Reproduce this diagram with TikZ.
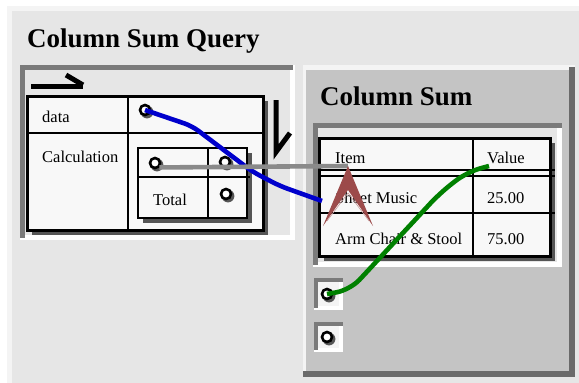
\documentclass[tikz,border=0pt]{standalone}
\usepackage{fontspec}
\setmainfont{Liberation Serif}
\usetikzlibrary{positioning}

\definecolor{panelgray}{HTML}{E6E6E6}
\definecolor{rimlight}{HTML}{F4F4F4}
\definecolor{rimdark}{HTML}{6A6A6A}
\definecolor{sunkdark}{HTML}{7A7A7A}
\definecolor{cellwhite}{HTML}{F8F8F8}
\definecolor{shadegray}{HTML}{555555}
\definecolor{sumgray}{HTML}{C4C4C4}
\definecolor{wireblue}{HTML}{0000CC}
\definecolor{wiregreen}{HTML}{008000}
\definecolor{wiregray}{HTML}{8A8A8A}
\definecolor{tipred}{HTML}{9C4A4A}

\tikzset{
  port/.style={circle, draw=black, line width=2.6pt, fill=white,
    minimum size=10pt, inner sep=0pt},
  lbl/.style={anchor=base west, inner sep=0pt,
    font=\fontsize{16.5}{18}\selectfont},
  ttl/.style={anchor=base west, inner sep=0pt,
    font=\fontsize{27}{29}\selectfont\bfseries},
  wire/.style={line width=4.6pt, rounded corners=8pt},
  rule/.style={line width=2pt}
}

\begin{document}
\begin{tikzpicture}[x=1pt, y=-1pt]
      \useasboundingbox (0,0) rectangle (579,383);
      \fill[white] (0,0) rectangle (579,383);
      \fill[rimlight] (7,6) rectangle (579,383);
      \fill[panelgray] (12,11) rectangle (579,383);

      \node[ttl] (qtitle) at (27,47) {Column Sum Query};

      % query frame (sunken)
      \fill[white] (20,65) rectangle (295,240);
      \fill[sunkdark] (20,65) rectangle (293,70);
      \fill[sunkdark] (20,65) rectangle (25,238);
      \fill[panelgray] (25,70) rectangle (290,235);

      \draw[line width=5pt] (31,86) -- (83,86);
      \draw[line width=5pt] (66,75) -- (83,85);
      \draw[line width=5pt] (276,100) -- (276,152) -- (290,133);

      % query table
      \fill[shadegray] (32,101) rectangle (268,235);
      \draw[fill=cellwhite, line width=3pt] (27,96) rectangle (263,230);
      \draw[rule] (128,96) -- (128,230);
      \draw[rule] (27,133) -- (265,133);
      \node[lbl] (datalbl) at (42,122) {data};
      \node[lbl] (calclbl) at (42,162) {Calculation};

      % calculation table
      \fill[shadegray] (143,153) rectangle (252,223);
      \draw[fill=cellwhite, line width=2.6pt] (138,148) rectangle (247,218);
      \draw[rule] (208,148) -- (208,218);
      \draw[rule] (138,177) -- (250,177);
      \node[lbl] (totallbl) at (153,205) {Total};

      % sum panel (raised)
      \fill[rimlight] (303,65) rectangle (575,377);
      \fill[rimdark] (569,67) rectangle (575,377);
      \fill[rimdark] (303,371) rectangle (575,377);
      \fill[sumgray] (306,70) rectangle (569,371);
      \node[ttl] (stitle) at (320,105) {Column Sum};

      % sum frame (sunken)
      \fill[white] (313,123) rectangle (562,267);
      \fill[sunkdark] (313,123) rectangle (562,128);
      \fill[sunkdark] (313,123) rectangle (318,265);
      \fill[panelgray] (318,128) rectangle (557,262);

      % sum table
      \fill[shadegray] (324,143) rectangle (555,261);
      \draw[fill=cellwhite, line width=3pt] (319,138) rectangle (550,256);
      \draw[rule] (473,138) -- (473,256);
      \draw[rule] (319,170) -- (555,170);
      \draw[rule] (319,176) -- (555,176);
      \draw[rule] (319,213) -- (555,213);
      \node[lbl] (itemlbl) at (335,163) {Item};
      \node[lbl] (valuelbl) at (487,163) {Value};
      \node[lbl] (musiclbl) at (335,203) {Sheet Music};
      \node[lbl] (musicval) at (487,203) {25.00};
      \node[lbl] (chairlbl) at (335,244) {Arm Chair \& Stool};
      \node[lbl] (chairval) at (487,244) {75.00};

      % port boxes
      \fill[white] (314,278) rectangle (343,310);
      \fill[sunkdark] (314,278) rectangle (343,282);
      \fill[sunkdark] (314,278) rectangle (318,308);
      \fill[rimlight] (318,282) rectangle (339,306);
      \fill[white] (314,322) rectangle (343,352);
      \fill[sunkdark] (314,322) rectangle (343,326);
      \fill[sunkdark] (314,322) rectangle (318,350);
      \fill[rimlight] (318,326) rectangle (339,348);

      % ports
      \foreach \px/\py in {145/110, 155/163, 225/162, 226/194, 327/294, 327/337}
        \fill[shadegray] (\px+2,\py+2) circle (6.4);
      \node[port] (dataport) at (145,110) {};
      \node[port] (calcin) at (155,163) {};
      \node[port] (calcout) at (225,162) {};
      \node[port] (totalport) at (226,194) {};
      \node[port] (sumin) at (327,294) {};
      \node[port] (sumout) at (327,337) {};

      \coordinate (itemtip) at (348,166);
      \coordinate (musicend) at (322,201);
      \coordinate (valueend) at (489,166);

      % wires
      \draw[wire, wireblue] (dataport.center) -- (192,126) -- (233,157)
        -- (253,172) -- (280,186) -- (musicend);
      \draw[wire, wiregray, rounded corners=0pt] (calcin.south east) -- (itemtip);
      \fill[tipred] (itemtip) -- (373,226) -- (348,190) -- (323,226) -- cycle;
      \draw[line width=0.6pt, tipred!55!white] (327,221) -- (348,193) -- (369,221);
      \draw[wire, wiregreen, rounded corners=14pt] (sumin.center) -- (350,290)
        -- (440,193) -- (467,172) -- (valueend);

    \end{tikzpicture}
\end{document}
